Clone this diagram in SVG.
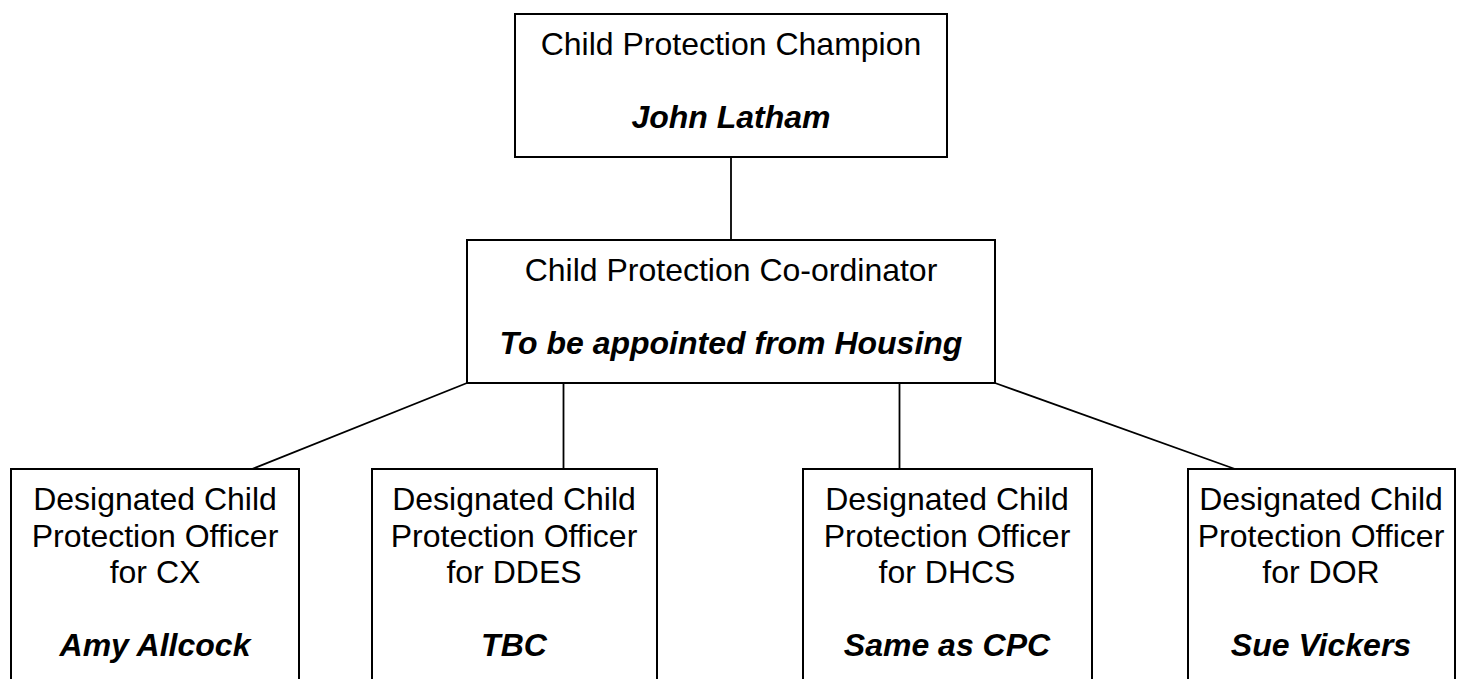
<svg xmlns="http://www.w3.org/2000/svg" width="1467" height="679" viewBox="0 0 1467 679">
<style>
.box{fill:#fff;stroke:#000;stroke-width:2}
.t{font-family:"Liberation Sans",Arial,sans-serif;font-size:32px;fill:#000;text-anchor:middle}
.n{font-weight:bold;font-style:italic}
.c{stroke:#000;stroke-width:1.8;fill:none}
</style>
<rect width="1467" height="679" fill="#fff"/>
<g id="connectors">
<line class="c" x1="731" y1="157" x2="731" y2="240"/>
<line class="c" x1="467" y1="383" x2="252" y2="469"/>
<line class="c" x1="563.5" y1="383" x2="563.5" y2="469"/>
<line class="c" x1="899.5" y1="383" x2="899.5" y2="469"/>
<line class="c" x1="995" y1="383" x2="1235" y2="469"/>
</g>
<g id="champion">
<rect class="box" x="515" y="14" width="432" height="143"/>
<text class="t" x="731" y="55">Child Protection Champion</text>
<text class="t n" x="731" y="128">John Latham</text>
</g>
<g id="coordinator">
<rect class="box" x="467" y="240" width="528" height="143"/>
<text class="t" x="731" y="281">Child Protection Co-ordinator</text>
<text class="t n" x="731" y="354">To be appointed from Housing</text>
</g>
<g id="dcpo-cx">
<rect class="box" x="11" y="469" width="288" height="240"/>
<text class="t" x="155" y="510">Designated Child</text>
<text class="t" x="155" y="547">Protection Officer</text>
<text class="t" x="155" y="583">for CX</text>
<text class="t n" x="155" y="656">Amy Allcock</text>
</g>
<g id="dcpo-ddes">
<rect class="box" x="372" y="469" width="285" height="240"/>
<text class="t" x="514" y="510">Designated Child</text>
<text class="t" x="514" y="547">Protection Officer</text>
<text class="t" x="514" y="583">for DDES</text>
<text class="t n" x="514" y="656">TBC</text>
</g>
<g id="dcpo-dhcs">
<rect class="box" x="803" y="469" width="289" height="240"/>
<text class="t" x="947" y="510">Designated Child</text>
<text class="t" x="947" y="547">Protection Officer</text>
<text class="t" x="947" y="583">for DHCS</text>
<text class="t n" x="947" y="656">Same as CPC</text>
</g>
<g id="dcpo-dor">
<rect class="box" x="1188" y="469" width="267" height="240"/>
<text class="t" x="1321" y="510">Designated Child</text>
<text class="t" x="1321" y="547">Protection Officer</text>
<text class="t" x="1321" y="583">for DOR</text>
<text class="t n" x="1321" y="656">Sue Vickers</text>
</g>
</svg>
